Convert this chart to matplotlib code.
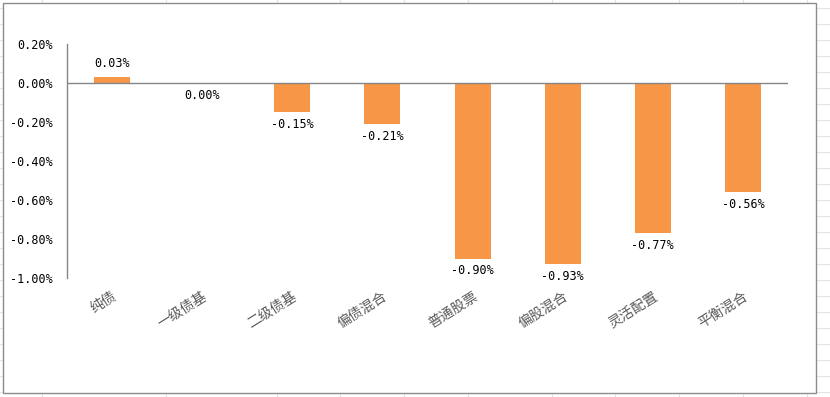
import numpy as np
import matplotlib.pyplot as plt
from matplotlib.patches import Rectangle
from matplotlib.lines import Line2D

plt.rcParams['font.family'] = ['Noto Sans CJK SC', 'DejaVu Sans']

# fund categories and their average return (%)
categories = ['纯债', '一级债基', '二级债基', '偏债混合', '普通股票', '偏股混合', '灵活配置', '平衡混合']
returns = [0.03, -0.0045, -0.15, -0.21, -0.90, -0.93, -0.77, -0.56]
yticks = [0.2, 0.0, -0.2, -0.4, -0.6, -0.8, -1.0]

W, H = 830, 397
fig = plt.figure(figsize=(W / 100, H / 100), dpi=100)
fig.patch.set_facecolor('white')

# faint spreadsheet cells behind the chart object
cols = [42, 166, 277, 340, 404, 468, 552, 615, 679, 743, 807]
for cx in cols:
    fig.add_artist(Line2D([cx / W, cx / W], [0, 1], color='#e4e4e4', lw=0.8, zorder=0))
for ry in np.arange(8, H, 16):
    fig.add_artist(Line2D([0, 1], [1 - ry / H, 1 - ry / H], color='#e4e4e4', lw=0.8, zorder=0))

# chart area with grey border
fig.add_artist(Rectangle((3 / W, 1 - 393 / H), 813 / W, 390 / H, transform=fig.transFigure,
                         facecolor='white', edgecolor='#8c8c8c', lw=1.0, zorder=1))

ax = fig.add_axes([67 / W, 1 - 278 / H, 721 / W, 234 / H], zorder=2)
ax.patch.set_alpha(0)

x = np.arange(len(categories))
ax.bar(x, returns, width=0.4, color='#F79646', zorder=2)
ax.axhline(0, color='#868686', lw=1.0, zorder=3)

ax.set_xlim(-0.5, len(categories) - 0.5)
ax.set_ylim(-1.0, 0.2)

for s in ['top', 'right', 'bottom']:
    ax.spines[s].set_visible(False)
ax.spines['left'].set_color('#868686')
ax.spines['left'].set_linewidth(1.0)

ax.set_yticks(yticks)
ax.set_yticklabels([f'{v:.2f}%' for v in yticks], family='DejaVu Sans Mono', fontsize=8.5)
ax.tick_params(axis='y', length=0, pad=10)

ax.set_xticks(x)
ax.set_xticklabels(categories, rotation=32, ha='right', rotation_mode='anchor',
                   fontsize=10, color='#595959')
ax.tick_params(axis='x', length=0, pad=8)

for xi, v in zip(x, returns):
    txt = f'{v:.2f}%'.replace('-0.00', '0.00')
    if v >= 0:
        ax.annotate(txt, (xi, v), xytext=(0, 5), textcoords='offset points',
                    ha='center', va='bottom', family='DejaVu Sans Mono', fontsize=8.5)
    else:
        ax.annotate(txt, (xi, v), xytext=(0, -4), textcoords='offset points',
                    ha='center', va='top', family='DejaVu Sans Mono', fontsize=8.5)

fig.savefig('out.png', dpi=100)
